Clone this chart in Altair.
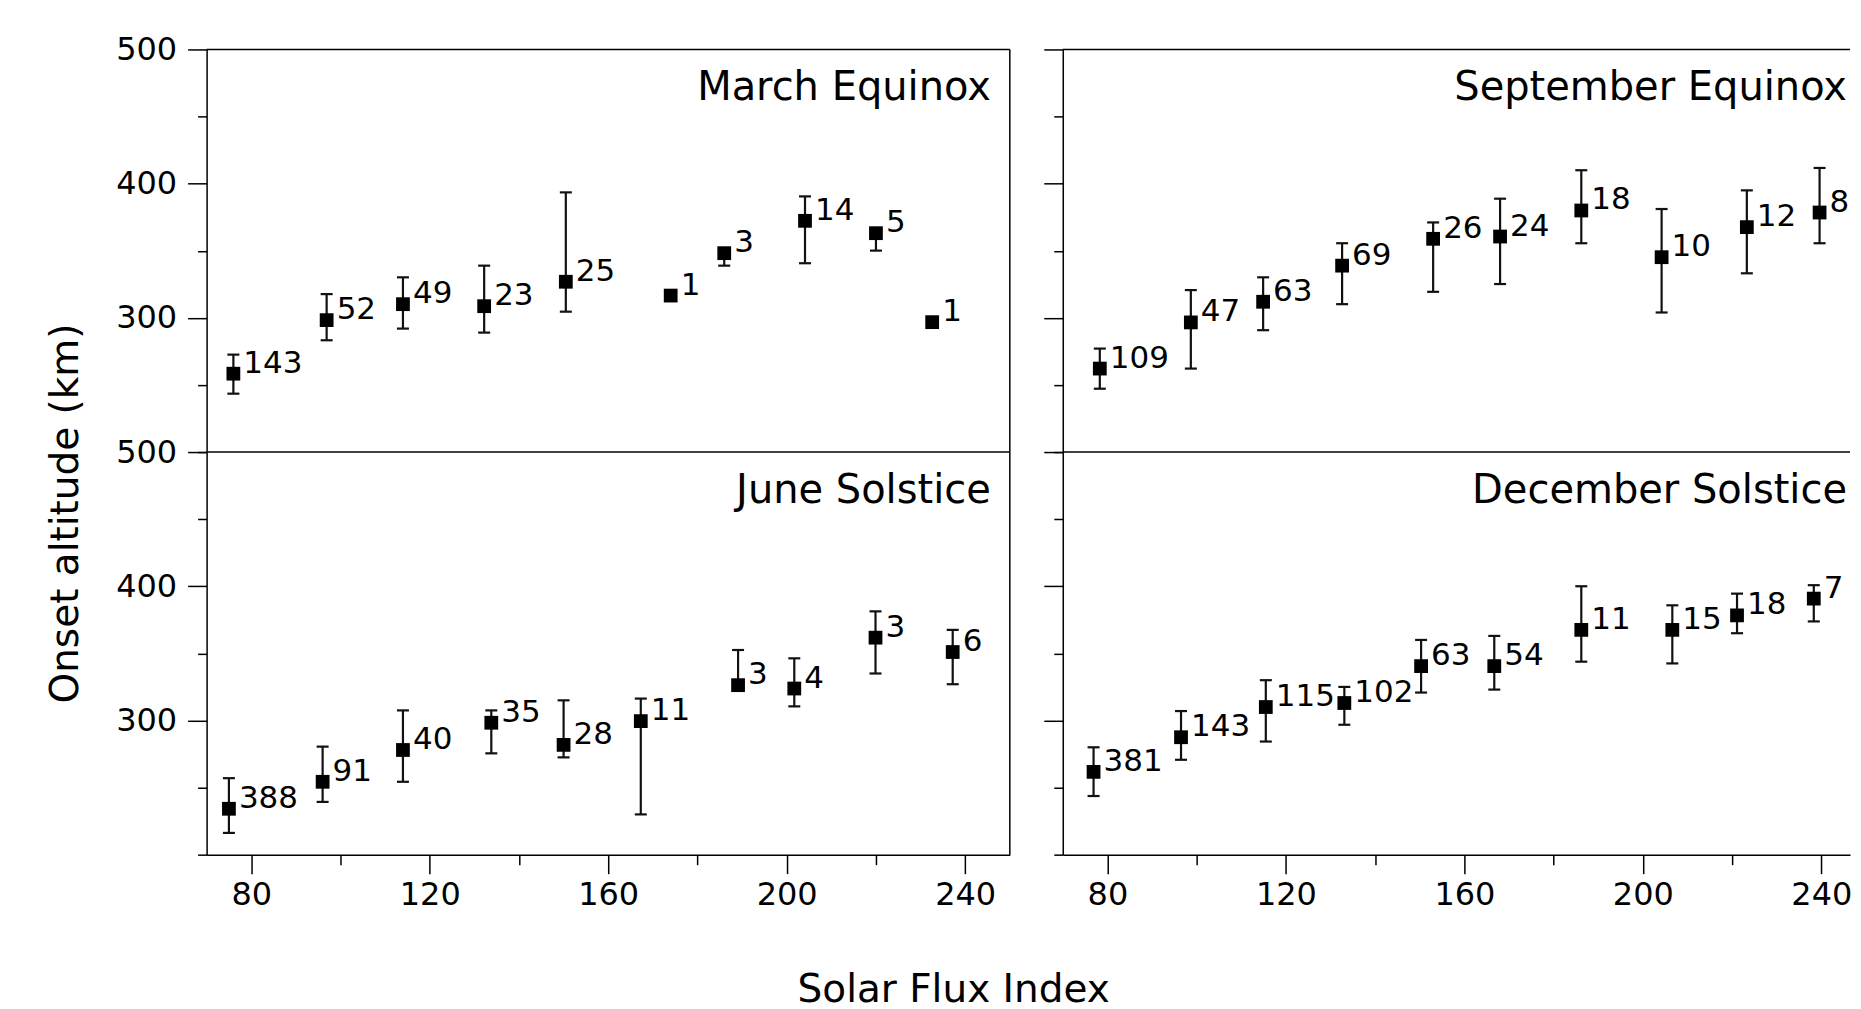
import altair as alt
import pandas as pd

# ---------------- values ----------------
panel_names = ["March Equinox", "September Equinox", "June Solstice", "December Solstice"]

mar_sfi = [76.0, 96.9, 114.0, 132.2, 150.5, 174.0, 186.0, 204.1, 220.0, 232.6]
mar_alt = [258.4, 298.3, 310.2, 308.7, 326.9, 316.6, 348.2, 372.3, 363.1, 296.8]
mar_lo = [243.5, 283.3, 292.0, 289.0, 304.6, None, 338.9, 340.7, 350.1, None]
mar_hi = [272.6, 317.7, 330.2, 338.9, 393.5, None, 351.0, 390.5, 366.5, None]
mar_n = [143, 52, 49, 23, 25, 1, 3, 14, 5, 1]

sep_sfi = [78.3, 98.7, 114.9, 132.6, 153.0, 168.0, 186.2, 204.2, 223.3, 239.6]
sep_alt = [262.2, 296.6, 312.0, 338.9, 358.9, 360.6, 380.0, 345.2, 367.6, 378.5]
sep_lo = [247.2, 262.2, 290.8, 310.2, 319.4, 325.2, 355.6, 304.0, 333.2, 355.6]
sep_hi = [277.1, 320.7, 330.2, 355.6, 371.1, 388.8, 410.0, 381.1, 395.0, 411.7]
sep_n = [109, 47, 63, 69, 26, 24, 18, 10, 12, 8]

jun_sfi = [75.0, 96.0, 114.0, 133.8, 150.0, 167.3, 189.1, 201.7, 219.9, 237.2]
jun_alt = [234.2, 254.3, 278.0, 298.3, 281.8, 299.5, 326.3, 323.8, 361.7, 351.0]
jun_lo = [216.2, 239.3, 254.3, 275.5, 272.5, 230.0, 323.0, 310.5, 335.0, 327.0]
jun_hi = [257.0, 280.5, 307.5, 307.5, 315.0, 316.3, 352.5, 346.3, 381.3, 367.5]
jun_n = [388, 91, 40, 35, 28, 11, 3, 4, 3, 6]

dec_sfi = [76.9, 96.5, 115.5, 133.1, 150.3, 166.7, 186.2, 206.6, 221.1, 238.3]
dec_alt = [261.7, 287.5, 310.0, 313.0, 340.5, 340.5, 367.5, 367.5, 378.3, 390.8]
dec_lo = [243.7, 270.7, 284.3, 296.8, 320.8, 323.0, 343.8, 342.5, 365.0, 373.8]
dec_hi = [280.0, 307.0, 330.0, 325.0, 360.0, 363.0, 400.0, 385.8, 394.5, 400.8]
dec_n = [381, 143, 115, 102, 63, 54, 11, 15, 18, 7]

y_major = [300, 400, 500]
y_minor = [200, 250, 350, 450]
x_major = [80, 120, 160, 200, 240]
x_minor = [100, 140, 180, 220]

# ---------------- layout ----------------
FONT = "DejaVu Sans"
H = 403
W_L = 804
PX = W_L / 180.0
W_R = 788
XDOM_L = [70, 250]
XDOM_R = [70, round(70 + W_R / PX, 3)]
YDOM = [200, 500]
INK = "#111111"


def make_panel(name, sfi, alt_v, lo, hi, n, xdom, width, ylabels, xaxis,
               ytitle=False, xtitle=False, right_border=False):
    df = pd.DataFrame({"sfi": sfi, "alt": alt_v, "lo": lo, "hi": hi,
                       "n": [str(v) for v in n]})
    xs = alt.Scale(domain=xdom, nice=False, zero=False)
    ys = alt.Scale(domain=YDOM, nice=False, zero=False)

    my = dict(values=y_major, tickSize=19, labels=ylabels, labelPadding=11,
              orient="left", domain=True, labelFlush=False, labelOverlap=False)
    if ytitle:
        my.update(title="Onset altitude (km)", titleX=-129.5, titleY=464,
                  titleAngle=270, titleAlign="center", titleBaseline="alphabetic",
                  titleFontSize=39)
    else:
        my.update(title=None)
    major_y = alt.Axis(**my)
    minor_y = alt.Axis(values=y_minor, tickSize=9, labels=False, domain=False,
                       orient="left", title=None)

    if xaxis:
        mx = dict(values=x_major, tickSize=19, labelPadding=6, orient="bottom",
                  domain=True, labelFlush=False, labelOverlap=False)
        if xtitle:
            mx.update(title="Solar Flux Index", titleX=747.3, titleY=146.7,
                      titleAlign="center", titleBaseline="alphabetic",
                      titleAngle=0, titleFontSize=39)
        else:
            mx.update(title=None)
        major_x = alt.Axis(**mx)
        minor_x = alt.Axis(values=x_minor, tickSize=10, labels=False,
                           domain=False, orient="bottom", title=None)
    else:
        major_x = None
        minor_x = None

    base = alt.Chart(df)
    valid = base.transform_filter("isValid(datum.lo)")

    err = valid.mark_rule(color=INK, strokeWidth=2.2).encode(
        x=alt.X("sfi:Q", scale=xs, axis=minor_x),
        y=alt.Y("lo:Q", scale=ys, axis=minor_y),
        y2="hi:Q",
    )
    cap_hi = valid.mark_tick(orient="horizontal", size=12, thickness=2.2,
                             color=INK, opacity=1).encode(
        x=alt.X("sfi:Q", scale=xs, axis=None),
        y=alt.Y("hi:Q", scale=ys, axis=None),
    )
    cap_lo = valid.mark_tick(orient="horizontal", size=12, thickness=2.2,
                             color=INK, opacity=1).encode(
        x=alt.X("sfi:Q", scale=xs, axis=None),
        y=alt.Y("lo:Q", scale=ys, axis=None),
    )
    pts = base.mark_square(size=190, color="black", opacity=1).encode(
        x=alt.X("sfi:Q", scale=xs, axis=major_x),
        y=alt.Y("alt:Q", scale=ys, axis=major_y),
    )
    labels = base.mark_text(align="left", baseline="alphabetic", dx=10, dy=-1,
                            fontSize=31, font=FONT, color="black").encode(
        x=alt.X("sfi:Q", scale=xs, axis=None),
        y=alt.Y("alt:Q", scale=ys, axis=None),
        text="n:N",
    )
    title = alt.Chart(alt.Data(values=[{"t": name}])).mark_text(
        align="right", baseline="alphabetic", fontSize=40, font=FONT,
        color="black").encode(
        x=alt.XDatum(245.75, type="quantitative", scale=xs, axis=None),
        y=alt.YDatum(462.3, type="quantitative", scale=ys, axis=None),
        text="t:N",
    )
    top_rule = alt.Chart(alt.Data(values=[{}])).mark_rule(
        color="black", strokeWidth=1.5).encode(
        y=alt.YDatum(500, type="quantitative", scale=ys, axis=None))

    layers = [top_rule]
    if right_border:
        layers.append(alt.Chart(alt.Data(values=[{}])).mark_rule(
            color="black", strokeWidth=1.5).encode(
            x=alt.XDatum(250, type="quantitative", scale=xs, axis=None)))
    layers += [err, cap_hi, cap_lo, pts, labels, title]
    return alt.layer(*layers).resolve_axis(x="independent", y="independent").properties(
        width=width, height=H)


tl = make_panel(panel_names[0], mar_sfi, mar_alt, mar_lo, mar_hi, mar_n,
                XDOM_L, W_L, True, False, ytitle=True, right_border=True)
tr = make_panel(panel_names[1], sep_sfi, sep_alt, sep_lo, sep_hi, sep_n,
                XDOM_R, W_R, False, False)
bl = make_panel(panel_names[2], jun_sfi, jun_alt, jun_lo, jun_hi, jun_n,
                XDOM_L, W_L, True, True, xtitle=True, right_border=True)
br = make_panel(panel_names[3], dec_sfi, dec_alt, dec_lo, dec_hi, dec_n,
                XDOM_R, W_R, False, True)

chart = alt.concat(tl, tr, bl, br, columns=2,
                   spacing={"row": 0, "column": 53}, bounds="flush").properties(
    padding={"left": 37.8, "top": 24, "right": 0, "bottom": 0},
    background="white",
).configure_view(stroke="transparent").configure_axis(
    labelFont=FONT, titleFont=FONT, labelFontSize=32, labelColor="black",
    titleColor="black", domainColor="black", tickColor="black",
    domainWidth=1.5, tickWidth=1.5, grid=False, titleFontWeight="normal",
)

chart.save("out.html", embed_options={"renderer": "svg", "actions": False})
